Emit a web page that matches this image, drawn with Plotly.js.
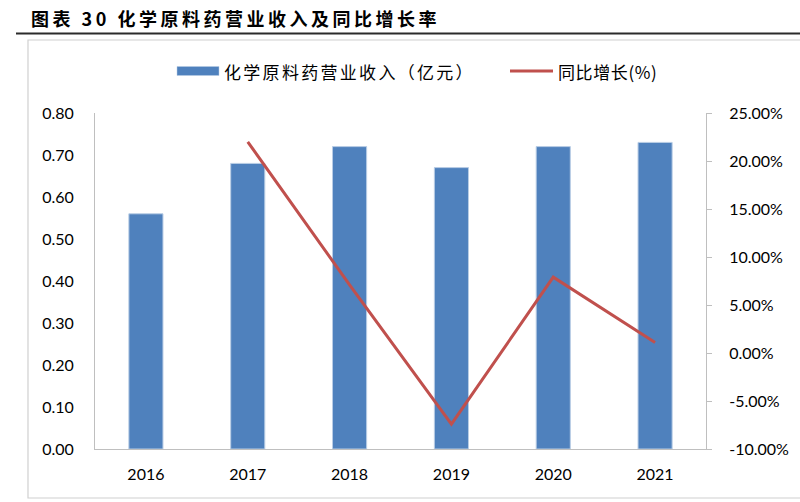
<!DOCTYPE html>
<html><head><meta charset="utf-8">
<script src="https://cdn.plot.ly/plotly-3.0.1.min.js"></script>
<style>
html,body{margin:0;padding:0;background:#fff}#c{width:800px;height:502px}
.annotation[data-index="0"] text{letter-spacing:3.5px}
.annotation[data-index="1"] text{letter-spacing:2.3px}
.annotation[data-index="2"] text{letter-spacing:0.6px}
</style>
</head><body><div id="c"></div>
<script>
const years = ['2016','2017','2018','2019','2020','2021'];
const revenue = [0.56, 0.68, 0.72, 0.67, 0.72, 0.73];
const growth = [null, 22.0, 7.1, -7.4, 7.9, 1.1];
const revenueName = '化学原料药营业收入（亿元）';
const growthName = '同比增长(%)';
const titleText = '图表 30 化学原料药营业收入及同比增长率';
const leftTicks = [0, 0.1, 0.2, 0.3, 0.4, 0.5, 0.6, 0.7, 0.8];
const rightTicks = [-10, -5, 0, 5, 10, 15, 20, 25];

const L = 95, R = 706, T = 113, B = 449;
const px = x => (x - L) / (R - L);
const py = y => (B - y) / (B - T);
const tickFont = {family: 'Lato, "Open Sans", sans-serif', size: 16, color: '#000'};
const cjk = '"Noto Sans CJK SC", sans-serif';

const data = [
  {type: 'bar', x: years, y: revenue, name: revenueName, width: 0.335,
   marker: {color: '#4F81BD', line: {color: '#B9CDE5', width: 1}}, showlegend: false, yaxis: 'y'},
  {type: 'scatter', mode: 'lines', x: years, y: growth, name: growthName,
   line: {color: '#C0504D', width: 3}, showlegend: false, yaxis: 'y2', connectgaps: false}
];

const layout = {
  width: 800, height: 502,
  margin: {l: L, r: 800 - R, t: T, b: 502 - B, pad: 0},
  paper_bgcolor: '#fff', plot_bgcolor: '#fff',
  showlegend: false,
  xaxis: {type: 'category', showgrid: false, zeroline: false, showline: true, linecolor: '#BFBFBF', linewidth: 1,
    ticks: '', tickfont: tickFont, ticklabelstandoff: 11, fixedrange: true},
  yaxis: {range: [0, 0.8], tickvals: leftTicks, ticktext: leftTicks.map(v => v.toFixed(2)), showgrid: false,
    zeroline: false, showline: true, linecolor: '#BFBFBF', linewidth: 1, ticks: '', tickfont: tickFont,
    ticklabelstandoff: 17},
  yaxis2: {range: [-10, 25], overlaying: 'y', side: 'right', tickvals: rightTicks,
    ticktext: rightTicks.map(v => v.toFixed(2) + '%'), showgrid: false, zeroline: false, showline: true,
    linecolor: '#BFBFBF', linewidth: 1, ticks: 'outside', ticklen: 5, tickcolor: '#BFBFBF',
    tickfont: tickFont, ticklabelstandoff: 14},
  shapes: [
    {type: 'rect', xref: 'paper', yref: 'paper', x0: px(28), x1: px(830), y0: py(498), y1: py(40),
     line: {color: '#D0D0D0', width: 1.2}, fillcolor: 'rgba(0,0,0,0)', layer: 'below'},
    {type: 'line', xref: 'paper', yref: 'paper', x0: px(16), x1: px(805), y0: py(33.5), y1: py(33.5),
     line: {color: '#2b2b2b', width: 2}},
    {type: 'rect', xref: 'paper', yref: 'paper', x0: px(177), x1: px(219), y0: py(75.5), y1: py(66.5),
     line: {color: '#B9CDE5', width: 0.5}, fillcolor: '#4F81BD'},
    {type: 'line', xref: 'paper', yref: 'paper', x0: px(510), x1: px(553), y0: py(71), y1: py(71),
     line: {color: '#C0504D', width: 3}}
  ],
  annotations: [
    {xref: 'paper', yref: 'paper', x: px(29), y: py(18), xanchor: 'left', yanchor: 'middle', align: 'left',
     showarrow: false, text: '<b>' + titleText + '</b>', font: {family: cjk, size: 18, color: '#000'}},
    {xref: 'paper', yref: 'paper', x: px(222), y: py(71), xanchor: 'left', yanchor: 'middle', align: 'left',
     showarrow: false, text: revenueName, font: {family: cjk, size: 17, color: '#000'}},
    {xref: 'paper', yref: 'paper', x: px(556), y: py(71), xanchor: 'left', yanchor: 'middle', align: 'left',
     showarrow: false, text: growthName, font: {family: cjk, size: 17, color: '#000'}}
  ]
};

Plotly.newPlot('c', data, layout, {displayModeBar: false, staticPlot: true});
</script></body></html>
